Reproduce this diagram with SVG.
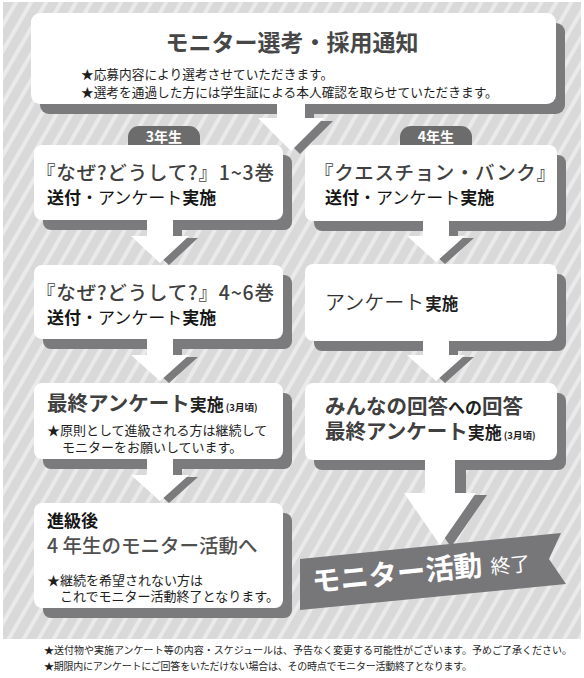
<svg xmlns="http://www.w3.org/2000/svg" width="584" height="678" viewBox="0 0 584 678">
<style>
text{font-family:"Noto Sans CJK JP","Noto Sans",sans-serif;}
.sh{fill:#7b7b7d;}
.bx{fill:#ffffff;}
.ar{fill:#ffffff;}
.ash{fill:#7b7b7d;}
.pill{fill:#6c6c6c;}
.pt{fill:#ffffff;font-size:14px;font-weight:700;text-anchor:middle;}
.h1{fill:#404040;font-size:19.5px;font-weight:500;}
.h2{fill:#151515;font-size:17px;}
.b{font-weight:700;}
.n{font-weight:400;}
.st{fill:#1e1e1e;font-size:13px;}
.ft{fill:#1e1e1e;font-size:10px;}
.big{fill:#404040;font-size:20.5px;font-weight:700;}
.mid{fill:#1e1e1e;font-size:17px;font-weight:700;}
.sm{fill:#1e1e1e;font-size:9.5px;font-weight:700;}
</style>
<defs>
<pattern id="stripes" patternUnits="userSpaceOnUse" width="13" height="13" patternTransform="rotate(30)">
<rect x="0" y="0" width="13" height="13" fill="#d9d9d9"/>
<rect x="0" y="0" width="4" height="13" fill="#eaeaea"/>
</pattern>
</defs>
<rect x="0" y="0" width="584" height="678" fill="#ffffff"/>
<rect x="3" y="2" width="578" height="637" fill="url(#stripes)"/>

<g id="n-top">
<rect class="sh" x="40" y="23" width="525" height="91" rx="9"/>
<rect class="bx" x="31" y="13" width="525" height="91" rx="9"/>
<text x="292" y="51" text-anchor="middle" font-size="23" font-weight="700" fill="#474747">モニター選考・採用通知</text>
<text x="81" y="79" font-size="12.7" fill="#1e1e1e">★応募内容により選考させていただきます。</text>
<text x="81" y="97" font-size="12.7" fill="#1e1e1e">★選考を通過した方には学生証による本人確認を取らせていただきます。</text>
</g>

<g id="n-l1">
<rect class="sh" x="43" y="155" width="249" height="75" rx="8"/>
<rect class="pill" x="128" y="126" width="72" height="30" rx="11"/>
<text class="pt" x="164" y="142">3年生</text>
<rect class="bx" x="34" y="145" width="249" height="75" rx="8"/>
<text class="h1" x="36" y="180" textLength="238" lengthAdjust="spacing">『なぜ?どうして?』1~3巻</text>
<text class="h2" x="47" y="204"><tspan class="b">送付</tspan><tspan class="n">・アンケート</tspan><tspan class="b">実施</tspan></text>
</g>

<g id="n-r1">
<rect class="sh" x="314" y="155" width="252" height="76" rx="8"/>
<rect class="pill" x="400" y="126" width="72" height="30" rx="11"/>
<text class="pt" x="436" y="142">4年生</text>
<rect class="bx" x="305" y="145" width="252" height="76" rx="8"/>
<text class="h1" x="314" y="180" font-size="20" textLength="242" lengthAdjust="spacing">『クエスチョン・バンク』</text>
<text class="h2" x="325" y="204"><tspan class="b">送付</tspan><tspan class="n">・アンケート</tspan><tspan class="b">実施</tspan></text>
</g>

<g id="n-l2">
<rect class="sh" x="43" y="275" width="249" height="74" rx="8"/>
<rect class="bx" x="34" y="265" width="249" height="74" rx="8"/>
<text class="h1" x="36" y="300" textLength="238" lengthAdjust="spacing">『なぜ?どうして?』4~6巻</text>
<text class="h2" x="47" y="324"><tspan class="b">送付</tspan><tspan class="n">・アンケート</tspan><tspan class="b">実施</tspan></text>
</g>

<g id="n-r2">
<rect class="sh" x="314" y="274" width="252" height="77" rx="8"/>
<rect class="bx" x="305" y="264" width="252" height="77" rx="8"/>
<text x="325" y="310"><tspan fill="#333333" font-size="20" font-weight="350">アンケート</tspan><tspan fill="#1e1e1e" font-size="16.5" font-weight="700" dx="1">実施</tspan></text>
</g>

<g id="n-l3">
<rect class="sh" x="43" y="393" width="249" height="76" rx="8"/>
<rect class="bx" x="34" y="383" width="249" height="76" rx="8"/>
<text x="47" y="411"><tspan class="big">最終アンケート</tspan><tspan class="mid">実施</tspan><tspan class="sm" dx="2">(3月頃)</tspan></text>
<text class="st" x="47" y="435">★原則として進級される方は継続して</text>
<text class="st" x="62" y="452">モニターをお願いしています。</text>
</g>

<g id="n-r3">
<rect class="sh" x="314" y="393" width="252" height="77" rx="8"/>
<rect class="bx" x="305" y="383" width="252" height="77" rx="8"/>
<text x="325" y="414"><tspan class="big" font-size="19.5">みんなの回答</tspan><tspan class="mid" font-size="16">への</tspan><tspan class="big" font-size="19.5">回答</tspan></text>
<text x="325" y="439"><tspan class="big">最終アンケート</tspan><tspan class="mid">実施</tspan><tspan class="sm" dx="2">(3月頃)</tspan></text>
</g>

<g id="n-l4">
<rect class="sh" x="43" y="513" width="249" height="105" rx="8"/>
<rect class="bx" x="34" y="503" width="249" height="105" rx="8"/>
<text x="47" y="527" font-size="17" font-weight="700" fill="#151515">進級後</text>
<text x="47" y="553" font-size="19.5" font-weight="500" fill="#505050">4 年生のモニター活動へ</text>
<text class="st" x="47" y="585">★継続を希望されない方は</text>
<text class="st" x="60" y="601">これでモニター活動終了となります。</text>
</g>

<g id="connectors">
<path class="ash" transform="translate(9,3)" d="M277 104 L305 104 L305 118 L324 118 L291 151 L258 118 L277 118 Z"/>
<path class="ar" d="M277 104 L305 104 L305 118 L324 118 L291 151 L258 118 L277 118 Z"/>
<path class="ash" transform="translate(9,2)" d="M147 220 L173 220 L173 236 L189 236 L160 263 L131 236 L147 236 Z"/>
<path class="ar" d="M147 220 L173 220 L173 236 L189 236 L160 263 L131 236 L147 236 Z"/>
<path class="ash" transform="translate(9,2)" d="M147 339 L173 339 L173 355 L189 355 L160 381 L131 355 L147 355 Z"/>
<path class="ar" d="M147 339 L173 339 L173 355 L189 355 L160 381 L131 355 L147 355 Z"/>
<path class="ash" transform="translate(9,2)" d="M147 459 L173 459 L173 475 L189 475 L160 501 L131 475 L147 475 Z"/>
<path class="ar" d="M147 459 L173 459 L173 475 L189 475 L160 501 L131 475 L147 475 Z"/>
<path class="ash" transform="translate(9,2)" d="M423 221 L449 221 L449 236 L465 236 L436 262 L407 236 L423 236 Z"/>
<path class="ar" d="M423 221 L449 221 L449 236 L465 236 L436 262 L407 236 L423 236 Z"/>
<path class="ash" transform="translate(9,2)" d="M423 341 L449 341 L449 355 L465 355 L436 381 L407 355 L423 355 Z"/>
<path class="ar" d="M423 341 L449 341 L449 355 L465 355 L436 381 L407 355 L423 355 Z"/>
<path class="ash" transform="translate(11,2)" d="M425 460 L455 460 L455 493 L476 493 L440 545 L404 493 L425 493 Z"/>
<path class="ar" d="M425 460 L455 460 L455 493 L476 493 L440 545 L404 493 L425 493 Z"/>
</g>

<g id="n-end">
<polygon fill="#77777a" points="300,559 561,533 549,559 566,584 300,610"/>
<text transform="rotate(-5.7 314 592)" x="313" y="592" fill="#ffffff"><tspan font-size="28.5" font-weight="700">モニター活動</tspan><tspan font-size="20" font-weight="400" dx="8">終了</tspan></text>
</g>

<g id="footer">
<text class="ft" x="44" y="654" textLength="528" lengthAdjust="spacing">★送付物や実施アンケート等の内容・スケジュールは、予告なく変更する可能性がございます。予めご了承ください。</text>
<text class="ft" x="44" y="670" textLength="428" lengthAdjust="spacing">★期限内にアンケートにご回答をいただけない場合は、その時点でモニター活動終了となります。</text>
</g>
</svg>
